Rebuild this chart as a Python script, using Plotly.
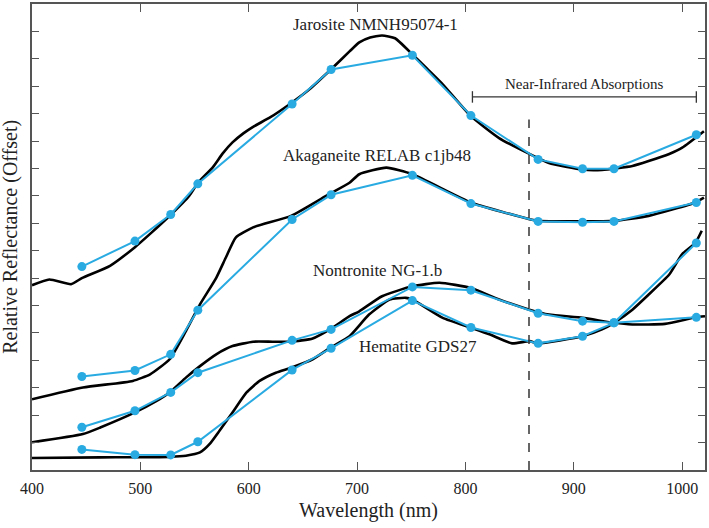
import plotly.graph_objects as go

# Filter wavelengths (nm) for the multispectral points
filter_nm = [446, 495, 528, 553, 640, 676, 751, 805, 867, 908, 937, 1013]

# Multispectral (blue) values, offset units
jar_pts = [7.42, 8.35, 9.32, 10.44, 13.35, 14.61, 15.13, 12.93, 11.33, 10.99, 10.99, 12.23]
aka_pts = [3.41, 3.63, 4.22, 5.83, 9.14, 10.04, 10.75, 9.72, 9.07, 9.04, 9.07, 9.76]
non_pts = [1.56, 2.16, 2.83, 3.55, 4.73, 5.13, 6.68, 6.56, 5.72, 5.43, 5.37, 5.57]
hem_pts = [0.75, 0.56, 0.55, 1.03, 3.65, 4.44, 6.18, 5.20, 4.62, 4.88, 5.37, 8.28]

# Laboratory spectra (black)
jar_wl = [400, 416, 436, 446, 472, 495, 510, 528, 545, 553, 567, 576, 585, 595, 604, 620, 639, 656, 676,
          693, 702, 712, 723, 735, 751, 765, 779, 805, 831, 859, 877, 908, 926, 954, 969, 988, 1000, 1020]
jar_val = [6.74, 6.95, 6.78, 7.00, 7.45, 8.13, 8.65, 9.31, 10.0, 10.47, 11.05, 11.55, 11.95, 12.28, 12.52, 12.87, 13.38, 13.89, 14.62,
           15.27, 15.6, 15.78, 15.85, 15.75, 15.16, 14.62, 14.07, 12.91, 12.11, 11.53, 11.2, 10.96, 10.95, 11.09, 11.27, 11.53, 11.76, 12.36]

aka_wl = [400, 447, 493, 509, 527, 542, 555, 570, 579, 588, 604, 639, 674, 693, 702, 727, 751,
          805, 859, 867, 908, 937, 969, 1012, 1020]
aka_val = [2.58, 3.01, 3.25, 3.49, 4.04, 5.07, 6.04, 7.01, 7.76, 8.48, 8.85, 9.27, 10.06, 10.48, 10.79, 11.03, 10.79,
           9.76, 9.15, 9.09, 9.07, 9.09, 9.27, 9.76, 9.94]

non_wl = [400, 447, 463, 495, 515, 527, 542, 555, 570, 585, 604, 622, 639, 659, 676, 693, 702, 723, 751,
          776, 805, 831, 859, 877, 908, 937, 954, 984, 1012, 1021]
non_val = [1.01, 1.31, 1.55, 2.10, 2.52, 2.83, 3.37, 3.79, 4.22, 4.52, 4.68, 4.68, 4.68, 4.80, 5.16, 5.61, 5.79, 6.34, 6.70,
           6.83, 6.64, 6.22, 5.85, 5.67, 5.55, 5.37, 5.31, 5.33, 5.57, 5.61]

hem_wl = [400, 463, 527, 542, 555, 564, 573, 585, 598, 610, 625, 639, 659, 676, 693, 711, 730, 745, 751,
          779, 805, 822, 843, 859, 867, 908, 926, 937, 954, 969, 988, 1000, 1012, 1018]
hem_val = [0.44, 0.46, 0.48, 0.52, 0.64, 0.95, 1.43, 2.10, 2.83, 3.25, 3.55, 3.73, 4.04, 4.48, 4.88, 5.67, 6.22, 6.28, 6.22,
           5.55, 5.19, 4.95, 4.62, 4.70, 4.62, 4.88, 5.13, 5.37, 5.85, 6.40, 7.13, 7.88, 8.28, 8.73]

x_ticks = [400, 500, 600, 700, 800, 900, 1000]

BLUE = "#29abe2"
SERIF = "Liberation Serif, Times New Roman, serif"

fig = go.Figure()

for wl, val in [(jar_wl, jar_val), (aka_wl, aka_val), (non_wl, non_val), (hem_wl, hem_val)]:
    fig.add_trace(go.Scatter(x=wl, y=val, mode="lines",
                             line=dict(color="black", width=2.6, shape="spline", smoothing=0.5),
                             showlegend=False, hoverinfo="skip"))

for pts in [jar_pts, aka_pts, non_pts, hem_pts]:
    fig.add_trace(go.Scatter(x=filter_nm, y=pts, mode="lines+markers",
                             line=dict(color=BLUE, width=2),
                             marker=dict(color=BLUE, size=9),
                             showlegend=False))

labels = [
    ("Jarosite NMNH95074-1", 716.8, 16.25),
    ("Akaganeite RELAB c1jb48", 718.2, 11.48),
    ("Nontronite NG-1.b", 718.7, 7.29),
    ("Hematite GDS27", 755.8, 4.52),
]
annotations = [dict(x=x, y=y, text=t, showarrow=False, xref="x", yref="y",
                    font=dict(family=SERIF, size=17, color="#222"))
               for t, x, y in labels]
annotations.append(dict(x=909.8, y=14.08, text="Near-Infrared Absorptions", showarrow=False,
                        font=dict(family=SERIF, size=15, color="#222")))
annotations.append(dict(x=-0.033, y=0.5, xref="paper", yref="paper", text="Relative Reflectance (Offset)",
                        textangle=-90, showarrow=False, xanchor="center", yanchor="middle",
                        font=dict(family=SERIF, size=20, color="#222")))
annotations.append(dict(x=0.5, y=-0.0876, xref="paper", yref="paper", text="Wavelength (nm)",
                        showarrow=False, xanchor="center", yanchor="middle",
                        font=dict(family=SERIF, size=20, color="#222")))

shapes = [
    dict(type="line", x0=858.6, x1=858.6, y0=0, y1=12.79, xref="x", yref="y",
         line=dict(color="#333", width=1.5, dash="dash")),
    dict(type="line", x0=806.4, x1=1013, y0=13.61, y1=13.61, xref="x", yref="y",
         line=dict(color="#333", width=1.3)),
    dict(type="line", x0=806.4, x1=806.4, y0=13.40, y1=13.82, xref="x", yref="y",
         line=dict(color="#333", width=1.3)),
    dict(type="line", x0=1013, x1=1013, y0=13.40, y1=13.82, xref="x", yref="y",
         line=dict(color="#333", width=1.3)),
]

fig.update_layout(
    width=709, height=528,
    margin=dict(l=32, r=3, t=2, b=58),
    paper_bgcolor="white", plot_bgcolor="white",
    annotations=annotations, shapes=shapes,
    xaxis=dict(range=[400, 1021], tickvals=x_ticks, ticks="inside", ticklen=8, tickwidth=1.3,
               tickcolor="#555", showline=True, linecolor="#555", linewidth=1.5, mirror="ticks",
               showgrid=False, zeroline=False, ticklabelstandoff=3,
               tickfont=dict(family=SERIF, size=16, color="#222")),
    yaxis=dict(range=[0, 17], dtick=1, tick0=0, ticks="inside", ticklen=7, tickwidth=1.3,
               tickcolor="#555", showline=True, linecolor="#555", linewidth=1.5, mirror="ticks",
               showgrid=False, zeroline=False, showticklabels=False),
)

fig.write_html("out.html", config={"displayModeBar": False},
               post_script="document.body.style.margin='0';document.body.style.overflow='hidden';")
